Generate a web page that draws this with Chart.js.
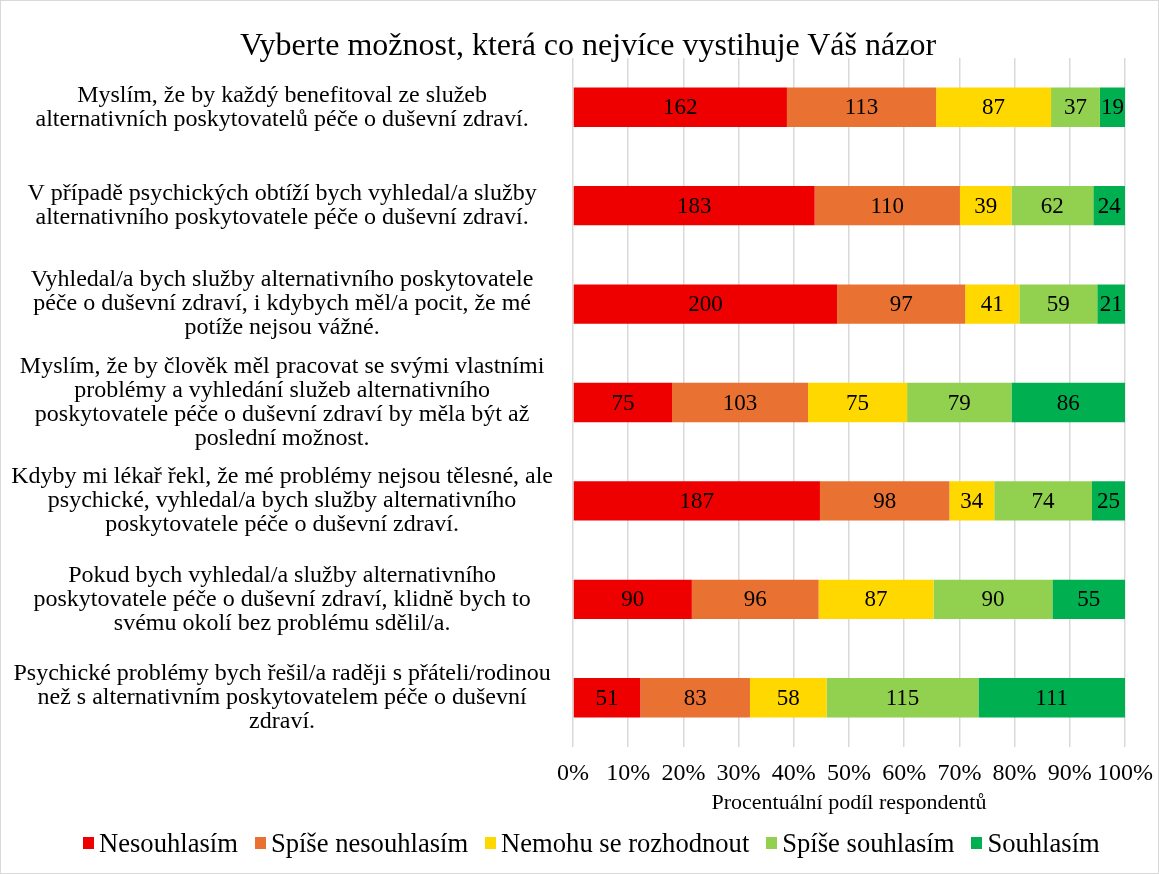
<!DOCTYPE html>
<html>
<head>
<meta charset="utf-8">
<script src="https://cdn.jsdelivr.net/npm/chart.js@4.4.1/dist/chart.umd.min.js"></script>
<style>
  html, body { margin: 0; padding: 0; background: #fff; }
  #wrap { position: relative; width: 1157px; height: 872px; border: 1px solid #d9d9d9; }
  #title {
    position: absolute; left: 587px; top: 25px; transform: translateX(-50%); white-space: nowrap;
    font-family: 'Liberation Serif', 'Times New Roman', serif; font-size: 32px; line-height: 36px; color: #000;
  }
  #legend {
    position: absolute; left: 82px; top: 827px; display: flex; align-items: center;
    font-family: 'Liberation Serif', 'Times New Roman', serif; font-size: 26.6px; line-height: 30px; color: #000;
  }
  #legend .item { display: flex; align-items: center; margin-right: 17px; white-space: nowrap; }
  #legend .box { width: 11px; height: 12px; margin-right: 5px; }
</style>
</head>
<body>
<div id="wrap">
  <canvas id="chart"></canvas>
  <div id="title">Vyberte možnost, která co nejvíce vystihuje Váš názor</div>
  <div id="legend"></div>
</div>
<script>
var categories = [
    ["Myslím, že by každý benefitoval ze služeb", "alternativních poskytovatelů péče o duševní zdraví."],
    ["V případě psychických obtíží bych vyhledal/a služby", "alternativního poskytovatele péče o duševní zdraví."],
    ["Vyhledal/a bych služby alternativního poskytovatele", "péče o duševní zdraví, i kdybych měl/a pocit, že mé", "potíže nejsou vážné."],
    ["Myslím, že by člověk měl pracovat se svými vlastními", "problémy a vyhledání služeb alternativního", "poskytovatele péče o duševní zdraví by měla být až", "poslední možnost."],
    ["Kdyby mi lékař řekl, že mé problémy nejsou tělesné, ale", "psychické, vyhledal/a bych služby alternativního", "poskytovatele péče o duševní zdraví."],
    ["Pokud bych vyhledal/a služby alternativního", "poskytovatele péče o duševní zdraví, klidně bych to", "svému okolí bez problému sdělil/a."],
    ["Psychické problémy bych řešil/a raději s přáteli/rodinou", "než s alternativním poskytovatelem péče o duševní", "zdraví."]
];

var seriesNames = ["Nesouhlasím", "Spíše nesouhlasím", "Nemohu se rozhodnout", "Spíše souhlasím", "Souhlasím"];
var seriesColors = ["#ee0000", "#e97132", "#ffd800", "#92d050", "#00b050"];

var nesouhlasim = [162, 183, 200, 75, 187, 90, 51];
var spiseNesouhlasim = [113, 110, 97, 103, 98, 96, 83];
var nemohu = [87, 39, 41, 75, 34, 87, 58];
var spiseSouhlasim = [37, 62, 59, 79, 74, 90, 115];
var souhlasim = [19, 24, 21, 86, 25, 55, 111];

var xTicks = [0, 10, 20, 30, 40, 50, 60, 70, 80, 90, 100];

var counts = [nesouhlasim, spiseNesouhlasim, nemohu, spiseSouhlasim, souhlasim];
var totals = categories.map(function (_, i) {
    return counts.reduce(function (s, arr) { return s + arr[i]; }, 0);
});

var font = "'Liberation Serif', 'Times New Roman', serif";

var datasets = counts.map(function (arr, k) {
    return {
        label: seriesNames[k],
        data: arr.map(function (v, i) { return v / totals[i] * 100; }),
        counts: arr,
        backgroundColor: seriesColors[k],
        borderWidth: 0,
        categoryPercentage: 0.4,
        barPercentage: 1.0
    };
});

// count labels in the middle of every segment
var barLabels = {
    id: "barLabels",
    afterDatasetsDraw: function (chart) {
        var c = chart.ctx;
        c.save();
        c.font = "23px " + font;
        c.fillStyle = "#000";
        c.textAlign = "center";
        c.textBaseline = "middle";
        chart.data.datasets.forEach(function (ds, k) {
            chart.getDatasetMeta(k).data.forEach(function (bar, i) {
                var p = bar.getProps(["x", "y", "base"], true);
                c.fillText(ds.counts[i], (p.x + p.base) / 2, p.y + 1);
            });
        });
        c.restore();
    }
};

// legend as html, built from the chart's legend items
var htmlLegend = {
    id: "htmlLegend",
    afterUpdate: function (chart) {
        var box = document.getElementById("legend");
        box.innerHTML = "";
        chart.options.plugins.legend.labels.generateLabels(chart).forEach(function (item) {
            var el = document.createElement("div");
            el.className = "item";
            var sw = document.createElement("span");
            sw.className = "box";
            sw.style.background = item.fillStyle;
            el.appendChild(sw);
            el.appendChild(document.createTextNode(item.text));
            box.appendChild(el);
        });
    }
};

new Chart(document.getElementById("chart"), {
    type: "bar",
    data: { labels: categories, datasets: datasets },
    plugins: [barLabels, htmlLegend],
    options: {
        indexAxis: "y",
        responsive: true,
        maintainAspectRatio: false,
        animation: false,
        layout: { padding: { left: 8, right: 33, top: 57, bottom: 56 } },
        scales: {
            x: {
                stacked: true,
                min: 0,
                max: 100,
                afterBuildTicks: function (scale) {
                    scale.ticks = xTicks.map(function (v) { return { value: v }; });
                },
                afterFit: function (scale) {
                    scale.height = 70;
                    scale.paddingLeft = 0;
                    scale.paddingRight = 0;
                },
                ticks: {
                    color: "#000",
                    font: { family: font, size: 24 },
                    padding: 12,
                    maxRotation: 0,
                    minRotation: 0,
                    autoSkip: false,
                    callback: function (v) { return v + "%"; }
                },
                grid: { color: "#d9d9d9", lineWidth: 1.5, drawTicks: false },
                border: { display: false },
                title: {
                    display: true,
                    text: "Procentuální podíl respondentů",
                    color: "#000",
                    font: { family: font, size: 22 },
                    padding: { top: 2, bottom: 1 }
                }
            },
            y: {
                stacked: true,
                afterFit: function (scale) { scale.width = 564; },
                ticks: {
                    color: "#000",
                    crossAlign: "center",
                    autoSkip: false,
                    font: { family: font, size: 24, lineHeight: 1.0 },
                    padding: 12
                },
                grid: { display: false },
                border: { display: false }
            }
        },
        plugins: {
            title: { display: false },
            legend: { display: false },
            tooltip: { enabled: false }
        }
    }
});
</script>
</body>
</html>
